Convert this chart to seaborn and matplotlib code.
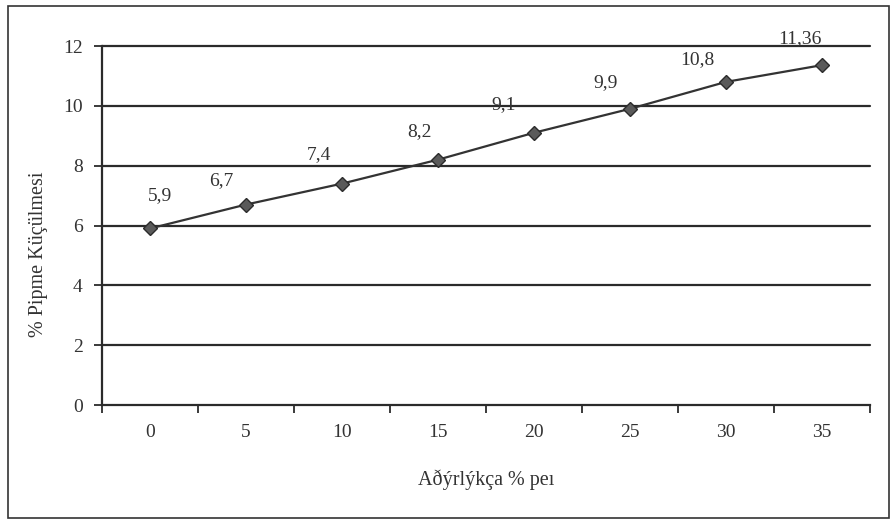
import matplotlib
matplotlib.use("Agg")
import matplotlib.pyplot as plt
import seaborn as sns
import pandas as pd
from matplotlib.patches import Rectangle

# veri
oranlar = [0, 5, 10, 15, 20, 25, 30, 35]
kuculme = [5.9, 6.7, 7.4, 8.2, 9.1, 9.9, 10.8, 11.36]
etiketler = ["5,9", "6,7", "7,4", "8,2", "9,1", "9,9", "10,8", "11,36"]
y_ticks = [0, 2, 4, 6, 8, 10, 12]

df = pd.DataFrame({"sira": range(len(oranlar)), "kuculme": kuculme})

sns.set_style("white")
plt.rcParams['font.family'] = ['Liberation Serif', 'DejaVu Serif']

fig = plt.figure(figsize=(8.93, 5.24), dpi=100)
ax = fig.add_axes([102 / 893, 1 - 405 / 524, 768 / 893, 359 / 524])

# yatay ızgara
for y in y_ticks[1:]:
    ax.axhline(y, color="#2b2b2b", lw=1.6, zorder=1, clip_on=False)

sns.lineplot(data=df, x="sira", y="kuculme", color="#333333", lw=1.6,
             marker="D", markersize=7.5, markerfacecolor="#5a5a5a",
             markeredgecolor="#2b2b2b", markeredgewidth=1, ax=ax, zorder=3)

ofsetler = [(10, 33), (-25, 24), (-23, 29), (-18, 28), (-30, 28), (-24, 26), (-29, 22), (-22, 27)]
for i, (v, t) in enumerate(zip(kuculme, etiketler)):
    ax.annotate(t, (i, v), xytext=ofsetler[i], textcoords="offset pixels",
                ha="center", va="center", fontsize=14, color="#333333")

ax.set_xlim(-0.5, len(oranlar) - 0.5)
ax.set_ylim(0, 12)
ax.set_yticks(y_ticks)
ax.set_xticks(range(len(oranlar)))
ax.set_xticklabels([str(o) for o in oranlar])
ax.set_xticks([i - 0.5 for i in range(len(oranlar) + 1)], minor=True)
ax.tick_params(axis="x", which="major", length=0, pad=14, labelsize=14, labelcolor="#333333")
ax.tick_params(axis="x", which="minor", length=6, width=1.3, direction="out", color="#2b2b2b", bottom=True)
ax.tick_params(axis="y", length=6, width=1.3, direction="out", color="#2b2b2b", left=True,
               pad=8, labelsize=14, labelcolor="#333333")

for s in ["top", "right"]:
    ax.spines[s].set_visible(False)
for s in ["left", "bottom"]:
    ax.spines[s].set_color("#2b2b2b")
    ax.spines[s].set_linewidth(1.6)

ax.set_xlabel("Aðýrlýkça % peı", fontsize=14.5, color="#333333", labelpad=20)
ax.set_ylabel("% Pipme Küçülmesi", fontsize=14.5, color="#333333")
ax.yaxis.set_label_coords(-0.07, 0.42)

# dış çerçeve
fig.patches.append(Rectangle((8 / 893, 6 / 524), 881 / 893, 512 / 524, transform=fig.transFigure,
                             fill=False, edgecolor="#333333", lw=1.2))

fig.savefig("out.png", dpi=100)
